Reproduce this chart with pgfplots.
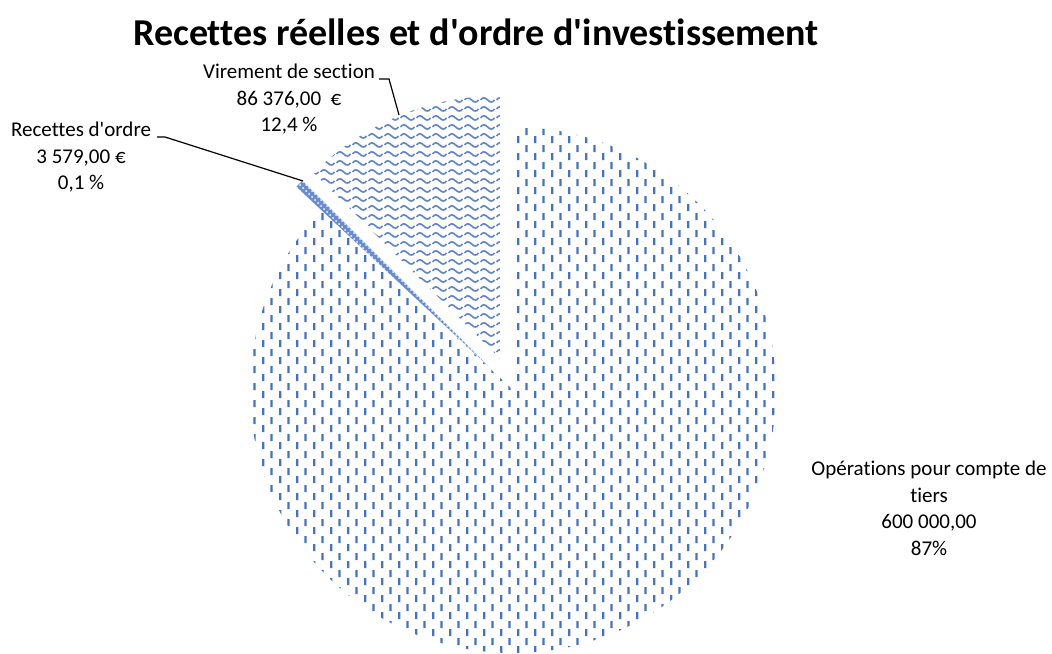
\documentclass[border=0pt]{standalone}
\usepackage{fontspec}
\setmainfont{Carlito}[Ligatures=NoCommon]
\usepackage{pgfplots}
\pgfplotsset{compat=1.18}
\usepackage{pgfplotstable}
\usetikzlibrary{patterns,patterns.meta}
\definecolor{xlblue}{RGB}{68,114,196}

% vertical staggered dashes (Excel "dashed vertical")
\tikzdeclarepattern{
  name=vdashes,
  type=uncolored,
  bounding box={(0,0) and (8.67pt,8.5pt)},
  tile size={(8.67pt,8.5pt)},
  code={
    \draw[line width=1.2pt] (2.17pt,0.4pt) -- (2.17pt,4.1pt);
    \draw[line width=1.2pt] (6.5pt,4.65pt) -- (6.5pt,8.35pt);
  }
}
% wave rows
\tikzdeclarepattern{
  name=waves,
  type=uncolored,
  bounding box={(0,0) and (8pt,4.5pt)},
  tile size={(8pt,4.5pt)},
  code={
    \draw[line width=0.9pt] (0.3pt,2.25pt) .. controls (1.5pt,3.8pt) and (2.5pt,3.8pt) .. (4pt,2.25pt)
      .. controls (5.5pt,0.7pt) and (6.5pt,0.7pt) .. (7.7pt,2.25pt);
  }
}

\pgfplotstableread{
label value
ops 600000
rec 3579
vir 86376
}\piedata
\pgfplotstablegetelem{0}{value}\of\piedata \let\vOps\pgfplotsretval
\pgfplotstablegetelem{1}{value}\of\piedata \let\vRec\pgfplotsretval
\pgfplotstablegetelem{2}{value}\of\piedata \let\vVir\pgfplotsretval
\edef\tot{\fpeval{\vOps+\vRec+\vVir}}
\edef\aA{\fpeval{90-360*\vOps/\tot}}
\edef\aB{\fpeval{\aA-360*\vRec/\tot}}
\edef\midB{\fpeval{(\aA+\aB)/2}}
\edef\midC{\fpeval{(\aB-270)/2}}
\def\R{131.5pt}

\begin{document}
\begin{tikzpicture}
\begin{axis}[name=ax, scale only axis, width=526pt, height=326.5pt,
  xmin=0, xmax=1052, ymin=0, ymax=653, y dir=reverse, hide axis, clip=false]
  % Opérations pour compte de tiers
  \path[pattern={vdashes}, pattern color=xlblue]
    (axis cs:513,390) -- ++(90:\R) arc[start angle=90, end angle=\aA, radius=\R] -- cycle;
  % Recettes d'ordre
  \fill[xlblue!80] (axis cs:513,390) ++(\midB:17pt) -- ++(\aA:\R)
    arc[start angle=\aA, end angle=\aB, radius=\R] -- cycle;
  \path[pattern=crosshatch dots, pattern color=white] (axis cs:513,390) ++(\midB:17pt) -- ++(\aA:\R)
    arc[start angle=\aA, end angle=\aB, radius=\R] -- cycle;
  % Virement de section
  \path[pattern={waves}, pattern color=xlblue!85]
    (axis cs:513,390) ++(\midC:17pt) -- ++(\aB:\R) arc[start angle=\aB, end angle=-270, radius=\R] -- cycle;

  \node[font=\fontsize{19}{23}\selectfont\bfseries] at (axis cs:476,32)
    {Recettes réelles et d\textquotesingle ordre d\textquotesingle investissement};
  \begin{scope}[every node/.style={align=center, font=\fontsize{10.5}{13.25}\selectfont}]
    \node at (axis cs:289,99.5) {Virement de section\\86 376,00\ \ €\\12,4 \%};
    \node at (axis cs:81,157.5) {Recettes d\textquotesingle ordre\\3 579,00 €\\0,1 \%};
    \node at (axis cs:929,508.5) {Opérations pour compte de\\tiers\\600 000,00\\87\%};
  \end{scope}
  \draw[line width=0.6pt] (axis cs:379,79) -- (axis cs:389,79) -- (axis cs:399,115);
  \draw[line width=0.6pt] (axis cs:157,137) -- (axis cs:165,137) -- (axis cs:303,181);
\end{axis}
\pgfresetboundingbox
\path[use as bounding box] (ax.south west) rectangle (ax.north east);
\end{tikzpicture}
\end{document}
